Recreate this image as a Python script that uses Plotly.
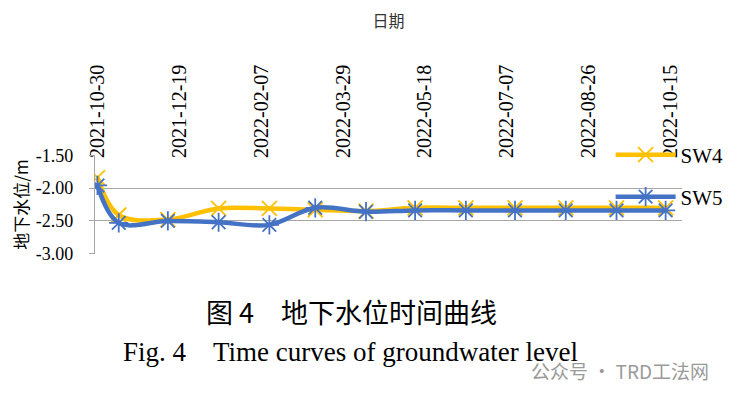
import plotly.graph_objects as go

dates = ['2021-10-30', '2021-11-12', '2021-12-12', '2022-01-12', '2022-02-12',
         '2022-03-12', '2022-04-12', '2022-05-12', '2022-06-12', '2022-07-12',
         '2022-08-12', '2022-09-12', '2022-10-12']
sw4 = [-1.84, -2.41, -2.48, -2.31, -2.31, -2.33, -2.35, -2.30, -2.30, -2.30, -2.30, -2.30, -2.30]
sw5 = [-1.96, -2.53, -2.50, -2.52, -2.56, -2.30, -2.36, -2.34, -2.34, -2.34, -2.34, -2.34, -2.34]
x_ticks = ['2021-10-30', '2021-12-19', '2022-02-07', '2022-03-29', '2022-05-18',
           '2022-07-07', '2022-08-26', '2022-10-15']
y_ticks = [-1.5, -2.0, -2.5, -3.0]
y_ticktext = ['-1.50', '-2.00', '-2.50', '-3.00']

# page body has an 8px margin; work in screen pixels and shift
OFF = 8
W, H = 741 - OFF, 397 - OFF
L, R, T, B = 95 - OFF, 687 - OFF, 155 - OFF, 254 - OFF
PW, PH = R - L, B - T


def xp(px):  # screen px -> paper
    return (px - OFF - L) / PW


def yp(py):
    return (B - (py - OFF)) / PH


SERIF = 'Liberation Serif'
CJK = 'Noto Sans CJK SC'
GRID = '#A6A6A6'

fig = go.Figure()
fig.add_trace(go.Scatter(
    x=dates, y=sw4, name='SW4', mode='lines+markers',
    line=dict(color='#FFC000', width=4.5, shape='spline', smoothing=1),
    marker=dict(symbol='x-thin-open', size=15, color='#FFC000', line=dict(width=1.8, color='#FFC000')),
    legend='legend'))
fig.add_trace(go.Scatter(
    x=dates, y=sw5, name='SW5', mode='lines+markers',
    line=dict(color='#4472C4', width=4.5, shape='spline', smoothing=1),
    marker=dict(symbol='asterisk-open', size=16, color='#4472C4', line=dict(width=1.8, color='#4472C4')),
    legend='legend2'))

fig.update_layout(
    width=W, height=H,
    margin=dict(l=L, r=W - R, t=T, b=H - B, pad=0),
    paper_bgcolor='white', plot_bgcolor='white',
    font=dict(family=SERIF, color='#000000'),
    xaxis=dict(
        type='date', side='top', range=['2021-10-28 12:00', '2022-10-22'],
        tickvals=x_ticks, ticktext=x_ticks, tickangle=-90,
        tickfont=dict(family=SERIF, size=20, color='#000'),
        showgrid=False, zeroline=False, showline=False, ticks='',
        ticklabelstandoff=-4, automargin=False,
        title=dict(text='日期', font=dict(family=CJK, size=16, color='#333'), standoff=35),
    ),
    yaxis=dict(
        range=[-3.004, -1.496], tickvals=y_ticks, ticktext=y_ticktext,
        tickfont=dict(family=SERIF, size=18, color='#000'),
        showgrid=True, gridcolor=GRID, gridwidth=1.3,
        showline=True, linecolor=GRID, linewidth=1.3,
        ticks='outside', ticklen=5, tickcolor=GRID, tickwidth=1.3,
        ticklabelstandoff=12, zeroline=False, automargin=False,
        title=dict(text='地下水位/m', font=dict(family=CJK, size=17, color='#000'), standoff=10),
    ),
    legend=dict(x=xp(615), y=yp(155), xanchor='left', yanchor='middle',
                bgcolor='rgba(0,0,0,0)', itemwidth=60,
                font=dict(family=SERIF, size=21, color='#000')),
    legend2=dict(x=xp(615), y=yp(197), xanchor='left', yanchor='middle',
                 bgcolor='rgba(0,0,0,0)', itemwidth=60,
                 font=dict(family=SERIF, size=21, color='#000')),
    showlegend=True,
)

fig.add_annotation(text='图 4　地下水位时间曲线', xref='paper', yref='paper',
                   x=xp(354), y=yp(311), xanchor='center', yanchor='middle',
                   showarrow=False, font=dict(family=CJK, size=27, color='#000'))
fig.add_annotation(text='Fig. 4　Time curves of groundwater level', xref='paper', yref='paper',
                   x=xp(353), y=yp(352), xanchor='center', yanchor='middle',
                   showarrow=False, font=dict(family=SERIF, size=27, color='#000'))
fig.add_annotation(text='公众号 · TRD工法网', xref='paper', yref='paper',
                   x=xp(716), y=yp(370), xanchor='right', yanchor='middle',
                   showarrow=False, font=dict(family=CJK, size=19, color='#9a9a9a'))

fig.write_html('out.html')
